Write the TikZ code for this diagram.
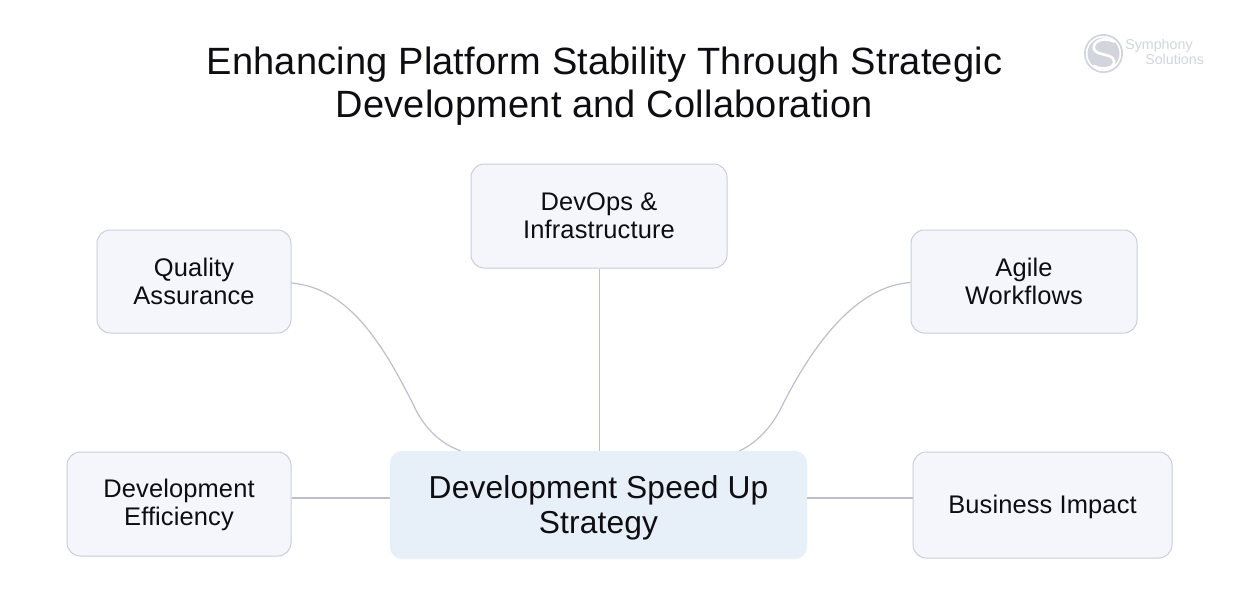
\documentclass[tikz,border=0pt]{standalone}
\usepackage{fontspec}
\setmainfont{Liberation Sans}
\newfontfamily\titlefont[LetterSpace=0.5]{Liberation Sans}
\newfontfamily\boxfont[LetterSpace=0.5]{Liberation Sans}
\usetikzlibrary{calc}
\definecolor{boxfill}{HTML}{F4F6FB}
\definecolor{boxline}{HTML}{CBCDDA}
\definecolor{corefill}{HTML}{E7EFF9}
\definecolor{linkc}{HTML}{BEBFCC}
\definecolor{logoc}{HTML}{D2D5DC}
\definecolor{ink}{HTML}{0E0E12}
\newcommand{\lowertext}[2]{\raisebox{-#1}[\height][\depth]{\begin{tabular}{@{}c@{}}#2\end{tabular}}}
\tikzset{
  x=0.75pt,y=-0.75pt,
  topicbox/.style={draw=boxline,line width=0.75pt,fill=boxfill,rounded corners=10pt,
    inner sep=0pt,align=center,text=ink,font=\boxfont\fontsize{19.1}{21}\selectfont},
  corebox/.style={fill=corefill,rounded corners=9pt,inner sep=0pt,align=center,text=ink,
    font=\boxfont\fontsize{23.8}{26.5}\selectfont},
  linkline/.style={draw=linkc,line width=0.9pt},
  titletext/.style={inner sep=0pt,align=center,text=ink,font=\titlefont\fontsize{28.5}{32.3}\selectfont},
}
\begin{document}
\begin{tikzpicture}
\useasboundingbox (0,0) rectangle (1238,608);
\fill[white] (0,0) rectangle (1238,608);
\node[titletext] (title) at (604.5,86.5) {Enhancing Platform Stability Through Strategic\\Development and Collaboration};
\node[topicbox,minimum width=194*0.75pt,minimum height=103*0.75pt] (qa) at (194,281.5) {Quality\\Assurance};
\node[topicbox,minimum width=256*0.75pt,minimum height=104*0.75pt] (devops) at (599,216) {DevOps \&\\Infrastructure};
\node[topicbox,minimum width=226*0.75pt,minimum height=103*0.75pt] (agile) at (1024,281.5) {Agile\\Workflows};
\node[topicbox,minimum width=224*0.75pt,minimum height=104*0.75pt] (eff) at (179,504) {\lowertext{1.5pt}{Development\\Efficiency}};
\node[topicbox,minimum width=259*0.75pt,minimum height=106*0.75pt] (biz) at (1042.5,505) {\lowertext{2.25pt}{Business Impact}};
\node[corebox,minimum width=417*0.75pt,minimum height=108*0.75pt] (core) at (598.5,505) {\lowertext{3pt}{Development Speed Up\\Strategy}};
\coordinate (coreL) at ($(core.north)+(-138,0)$);
\coordinate (coreR) at ($(core.north)+(141,0)$);
\coordinate (coreT) at ($(core.north)+(1,0)$);
\coordinate (coreW) at ($(core.west)+(0,-7)$);
\coordinate (coreE) at ($(core.east)+(0,-7)$);
\coordinate (qaE) at ($(qa.east)+(0,1.5)$);
\coordinate (agileW) at ($(agile.west)+(0,1)$);
\coordinate (qaM) at (414,406);
\coordinate (agileM) at (781,408);
\draw[linkline] (devops.south -| coreT) -- (coreT);
\draw[linkline] (eff.east |- coreW) -- (coreW);
\draw[linkline] (coreE) -- (biz.west |- coreE);
\draw[linkline] (qaE) .. controls (348,288) and (382,342) .. (qaM) .. controls (422,424) and (438,443) .. (coreL);
\draw[linkline] (agileW) .. controls (858,286) and (815,340) .. (agileM) .. controls (773,424) and (759,442) .. (coreR);
% logo
\fill[logoc,even odd rule] (1103.5,53.5) circle (19.5) (1103.5,53.5) circle (17.8);
\fill[logoc] (1103.5,53.5) circle (16);
\draw[white,line width=2pt,line cap=round] (1114,41.5) .. controls (1103,36) and (1092,42) .. (1094,49) .. controls (1096,56) and (1113,53) .. (1114,61) .. controls (1115,68) and (1103,71) .. (1094,66);
\node[inner sep=0pt,anchor=west,text=logoc,font=\fontsize{10.7}{10}\selectfont] (logoa) at (1125,46) {Symphony};
\node[inner sep=0pt,anchor=west,text=logoc,font=\fontsize{10.7}{10}\selectfont] (logob) at (1145,59) {Solutions};
\end{tikzpicture}
\end{document}
